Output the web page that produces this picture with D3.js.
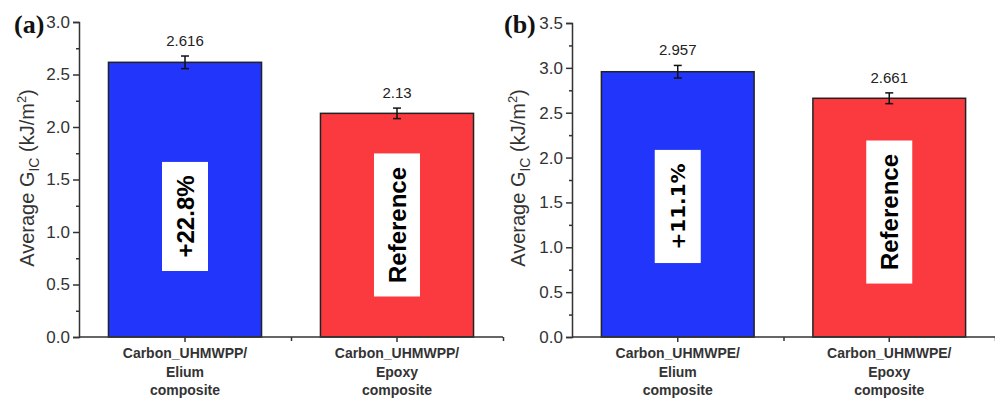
<!DOCTYPE html>
<html><head><meta charset="utf-8">
<script src="https://cdn.jsdelivr.net/npm/d3@7"></script>
<style>body{margin:0;background:#fff}svg{display:block}</style>
</head><body>
<svg id="c" width="995" height="399"></svg>
<script>
// ---- data ----
const panelLabels = ["(a)", "(b)"];
const categoriesA = [["Carbon_UHMWPP/", "Elium", "composite"], ["Carbon_UHMWPP/", "Epoxy", "composite"]];
const categoriesB = [["Carbon_UHMWPE/", "Elium", "composite"], ["Carbon_UHMWPE/", "Epoxy", "composite"]];
const valuesA = [2.616, 2.13];
const valuesB = [2.957, 2.661];
const errorsA = [0.06, 0.05];
const errorsB = [0.07, 0.06];
const valueLabelsA = ["2.616", "2.13"];
const valueLabelsB = ["2.957", "2.661"];
const annotationsA = ["+22.8%", "Reference"];
const annotationsB = ["+11.1%", "Reference"];
const annotationCenterA = [1.148, 1.067];
const annotationCenterB = [1.455, 1.393];
const yMaxA = 3.0, yMaxB = 3.5;
const yTicksA = [0, 0.5, 1.0, 1.5, 2.0, 2.5, 3.0];
const yTicksB = [0, 0.5, 1.0, 1.5, 2.0, 2.5, 3.0, 3.5];
const barColors = ["#2135fb", "#fb3a3f"];

const svg = d3.select("#c");
const axisColor = "#333";

function panel(cfg) {
  const g = svg.append("g");
  const x = d3.scaleBand().domain(d3.range(cfg.values.length))
    .range([cfg.x0, cfg.x1]).paddingInner(0.278).paddingOuter(0.139);
  const y = d3.scaleLinear().domain([0, cfg.yMax]).range([337, cfg.yTop]);

  // bars
  g.selectAll("rect.bar").data(cfg.values).join("rect")
    .attr("x", (d, i) => x(i)).attr("width", x.bandwidth())
    .attr("y", d => y(d)).attr("height", d => y(0) - y(d))
    .attr("fill", (d, i) => barColors[i]).attr("stroke", "#222").attr("stroke-width", 1.5);

  // error bars
  cfg.values.forEach((v, i) => {
    const cx = x(i) + x.bandwidth() / 2, e = cfg.errors[i];
    g.append("line").attr("x1", cx).attr("x2", cx).attr("y1", y(v + e)).attr("y2", y(v - e))
      .attr("stroke", "#111").attr("stroke-width", 1.5);
    [v + e, v - e].forEach(t => g.append("line").attr("x1", cx - 4).attr("x2", cx + 4)
      .attr("y1", y(t)).attr("y2", y(t)).attr("stroke", "#111").attr("stroke-width", 1.5));
    g.append("text").attr("x", cx).attr("y", y(v + e) - 10).attr("text-anchor", "middle")
      .attr("font-family", "Arial, 'Liberation Sans', sans-serif").attr("font-size", 15)
      .attr("fill", "#222").text(cfg.valueLabels[i]);

    // annotation box
    const cy = y(cfg.annCenter[i]);
    const ag = g.append("g");
    const box = ag.append("rect").attr("fill", "#fff");
    const txt = ag.append("text").attr("transform", `translate(${cx},${cy}) rotate(-90)`)
      .attr("text-anchor", "middle").attr("dy", "0.36em")
      .attr("font-family", cfg.annFonts[i]).attr("font-weight", "bold")
      .attr("font-size", cfg.annSizes[i]).attr("fill", "#000").text(cfg.annotations[i]);
    const len = txt.node().getComputedTextLength();
    box.attr("x", cx - 23).attr("width", 46).attr("y", cy - len / 2 - 13.5).attr("height", len + 27);
  });

  // y axis
  const yAxis = d3.axisLeft(y).tickValues(cfg.yTicks).tickFormat(d3.format(".1f")).tickSize(6).tickPadding(3);
  const ya = g.append("g").attr("transform", `translate(${cfg.x0},0)`).call(yAxis);
  const minor = d3.range(0.25, cfg.yMax, 0.5);
  g.append("g").attr("transform", `translate(${cfg.x0},0)`)
    .call(d3.axisLeft(y).tickValues(minor).tickFormat("").tickSize(3))
    .select(".domain").remove();

  // x axis
  const xa = g.append("g").attr("transform", `translate(0,337)`)
    .call(d3.axisBottom(x).tickSize(5).tickFormat(""));
  const xm = g.append("g").attr("transform", `translate(0,337)`)
    .call(d3.axisBottom(d3.scaleLinear().domain([0, 1]).range([cfg.x0, cfg.x1]))
      .tickValues([0.5, 1]).tickSize(4).tickFormat(""));
  xm.select(".domain").remove();
  xa.select(".domain").attr("d", `M${cfg.x0},0H${cfg.x1}`);

  g.selectAll(".domain, .tick line").attr("stroke", axisColor).attr("stroke-width", 1.5);
  ya.selectAll(".tick text").attr("font-family", "Arial, 'Liberation Sans', sans-serif")
    .attr("font-size", 17).attr("fill", "#333");

  // category labels
  cfg.categories.forEach((lines, i) => {
    const cx = x(i) + x.bandwidth() / 2;
    const t = g.append("text").attr("text-anchor", "middle")
      .attr("font-family", "Arial, 'Liberation Sans', sans-serif").attr("font-weight", "bold")
      .attr("font-size", 14).attr("fill", "#333");
    lines.forEach((l, k) => t.append("tspan").attr("x", cx).attr("y", 358 + k * 18.5).text(l));
  });

  // y label
  const yl = g.append("text").attr("transform", `translate(${cfg.ylx},178) rotate(-90)`)
    .attr("text-anchor", "middle").attr("font-family", "Arial, 'Liberation Sans', sans-serif")
    .attr("font-size", 20).attr("fill", "#333");
  yl.append("tspan").text("Average G");
  yl.append("tspan").attr("font-size", 14).attr("dy", 5).text("IC");
  yl.append("tspan").attr("dy", -5).text(" (kJ/m");
  yl.append("tspan").attr("font-size", 13).attr("dy", -8).text("2");
  yl.append("tspan").attr("dy", 8).text(")");

  // panel label
  g.append("text").attr("x", cfg.plx).attr("y", 33)
    .attr("font-family", "'Times New Roman', 'Liberation Serif', serif").attr("font-weight", "bold")
    .attr("font-size", 26).attr("fill", "#111").text(cfg.panelLabel);
}

panel({x0: 79, x1: 503, yTop: 22, yMax: yMaxA, yTicks: yTicksA, values: valuesA, errors: errorsA,
  valueLabels: valueLabelsA, annotations: annotationsA, annCenter: annotationCenterA,
  annFonts: ["Arial, 'Liberation Sans', sans-serif", "Arial, 'Liberation Sans', sans-serif"], annSizes: [24, 24],
  categories: categoriesA, ylx: 34, plx: 14, panelLabel: panelLabels[0]});
panel({x0: 572, x1: 995, yTop: 23, yMax: yMaxB, yTicks: yTicksB, values: valuesB, errors: errorsB,
  valueLabels: valueLabelsB, annotations: annotationsB, annCenter: annotationCenterB,
  annFonts: ["'DejaVu Sans', sans-serif", "Arial, 'Liberation Sans', sans-serif"], annSizes: [20, 24],
  categories: categoriesB, ylx: 525, plx: 504, panelLabel: panelLabels[1]});
</script>
</body></html>
